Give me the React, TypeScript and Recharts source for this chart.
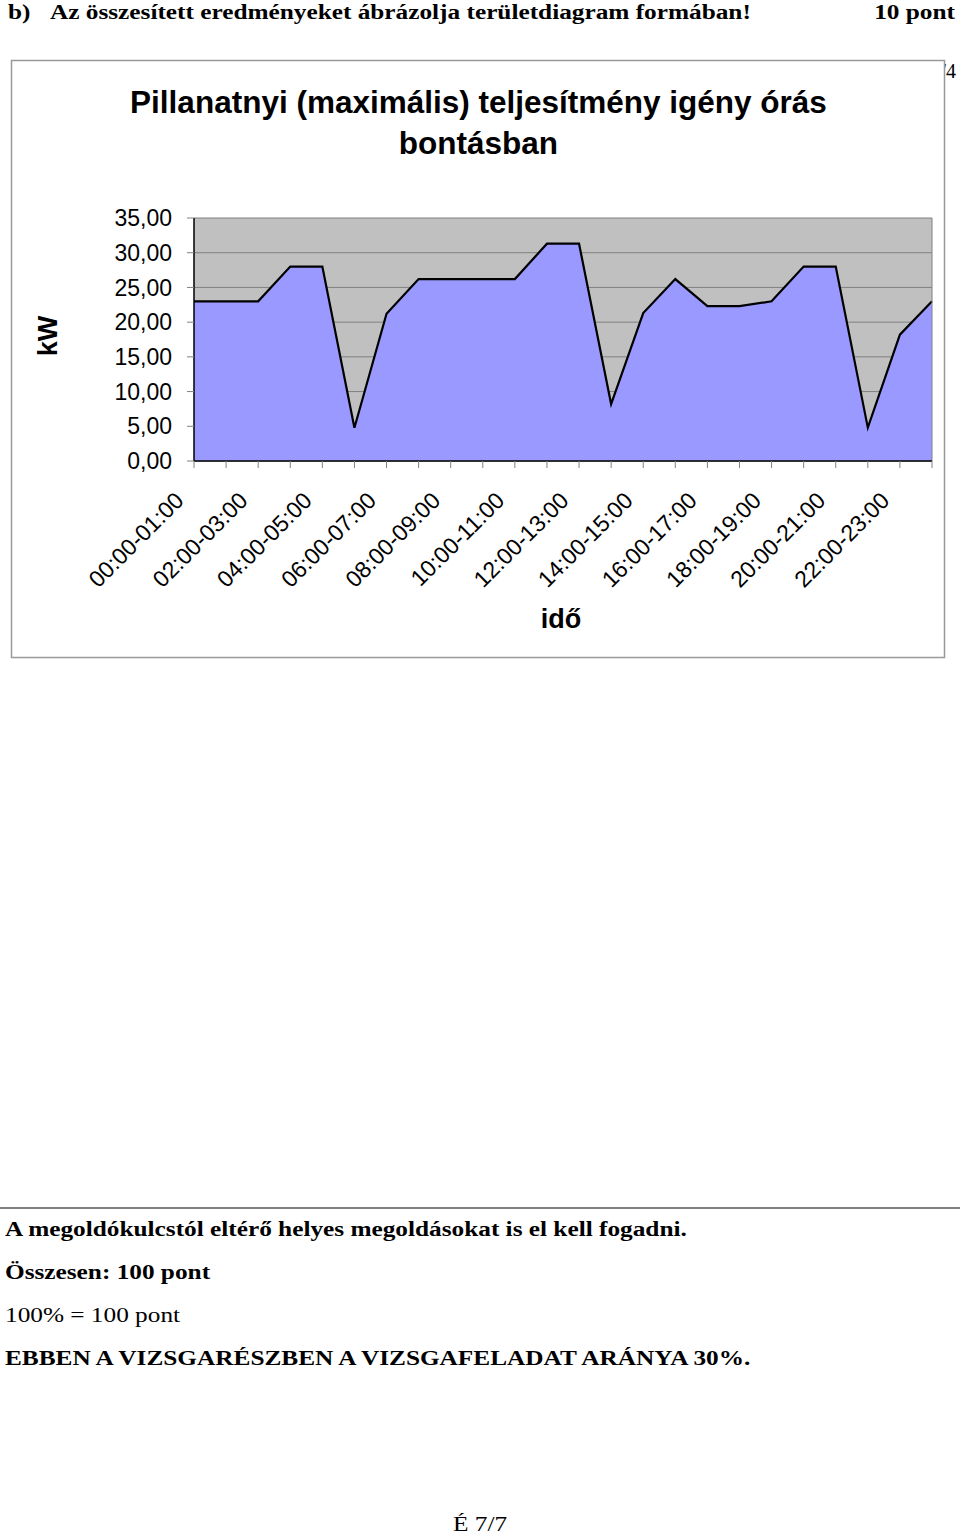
import React from 'react'
import { AreaChart, Area, XAxis, YAxis, CartesianGrid, ReferenceLine } from 'recharts'

// órás bontás: 00:00-01:00 ... 23:00-24:00
const hours = [
  '00:00-01:00', '01:00-02:00', '02:00-03:00', '03:00-04:00', '04:00-05:00', '05:00-06:00',
  '06:00-07:00', '07:00-08:00', '08:00-09:00', '09:00-10:00', '10:00-11:00', '11:00-12:00',
  '12:00-13:00', '13:00-14:00', '14:00-15:00', '15:00-16:00', '16:00-17:00', '17:00-18:00',
  '18:00-19:00', '19:00-20:00', '20:00-21:00', '21:00-22:00', '22:00-23:00', '23:00-24:00',
]

// kW értékek (leolvasva)
const power = [
  23, 23, 23, 28, 28, 4.8, 21.2, 26.2, 26.2, 26.2, 26.2, 31.3,
  31.3, 8.2, 21.3, 26.2, 22.3, 22.3, 23, 28, 28, 4.8, 18.2, 23,
]

const yTicks = [0, 5, 10, 15, 20, 25, 30, 35]

const data = hours.map((h, i) => ({ hour: h, kw: power[i] }))

const SANS = "'Liberation Sans', Arial, sans-serif"
const SERIF = "'Liberation Serif', 'Times New Roman', serif"

const fmt = (v: number) => v.toFixed(2).replace('.', ',')

// csak minden második címke látszik, de minden kategóriának van osztásjele
const HourTick = ({ x, y, payload }: any) => {
  const i = hours.indexOf(payload.value)
  if (i % 2 !== 0) return <g />
  return (
    <g transform={`translate(${x - 9},${y + 34})`}>
      <text textAnchor='end' transform='rotate(-45)' fontSize={23} fontFamily={SANS} fill='#000'>
        {payload.value}
      </text>
    </g>
  )
}

// a lap szövege kissé szélesebb, mint a Times
const PageText = ({ x, y, bold, anchor, children }: any) => (
  <g transform={`translate(${x},${y}) scale(1.15,1)`}>
    <text
      x={0}
      y={0}
      textAnchor={anchor || 'start'}
      fontFamily={SERIF}
      fontSize={22}
      fontWeight={bold ? 'bold' : 'normal'}
      fill='#000'
    >
      {children}
    </text>
  </g>
)

export default function App() {
  return (
    <div style={{ position: 'absolute', left: 0, top: 0, width: 960, height: 1537, background: '#fff' }}>
      <svg width={960} height={1537} style={{ position: 'absolute', left: 0, top: 0 }}>
        <PageText x={8} y={19} bold>b)</PageText>
        <PageText x={50} y={19} bold>Az összesített eredményeket ábrázolja területdiagram formában!</PageText>
        <PageText x={955} y={19} bold anchor='end'>10 pont</PageText>
        <text x={956} y={78} textAnchor='end' fontFamily={SERIF} fontSize={20} fill='#000'>/4</text>

        {/* diagram keret */}
        <rect x={11.5} y={60.5} width={933} height={597} fill='#fff' stroke='#999' strokeWidth={1.5} />

        <g fontFamily={SANS} fontSize={31.5} fontWeight='bold' fill='#000' textAnchor='middle'>
          <text x={478.5} y={113}>Pillanatnyi (maximális) teljesítmény igény órás</text>
          <text x={478.5} y={154}>bontásban</text>
        </g>
        <text
          transform='translate(57,336) rotate(-90)'
          textAnchor='middle'
          fontFamily={SANS}
          fontSize={27}
          fontWeight='bold'
          fill='#000'
        >
          kW
        </text>
        <text x={561} y={628} textAnchor='middle' fontFamily={SANS} fontSize={27} fontWeight='bold' fill='#000'>
          idő
        </text>

        <line x1={0} x2={960} y1={1208} y2={1208} stroke='#808080' strokeWidth={2} />
        <PageText x={5} y={1236} bold>A megoldókulcstól eltérő helyes megoldásokat is el kell fogadni.</PageText>
        <PageText x={5} y={1279} bold>Összesen: 100 pont</PageText>
        <PageText x={5} y={1322}>100% = 100 pont</PageText>
        <PageText x={5} y={1365} bold>EBBEN A VIZSGARÉSZBEN A VIZSGAFELADAT ARÁNYA 30%.</PageText>
        <PageText x={453} y={1531}>É 7/7</PageText>
      </svg>

      <div style={{ position: 'absolute', left: 0, top: 0 }}>
        <AreaChart width={960} height={660} data={data} margin={{ top: 218, right: 28, bottom: 99, left: 114 }}>
          <CartesianGrid vertical={false} stroke='#808080' fill='#C0C0C0' fillOpacity={1} />
          <XAxis
            dataKey='hour'
            interval={0}
            height={100}
            tickSize={7}
            tickMargin={0}
            tickLine={{ stroke: '#808080' }}
            axisLine={{ stroke: '#000', strokeWidth: 1.5 }}
            tick={<HourTick />}
          />
          <YAxis
            width={80}
            domain={[0, 35]}
            ticks={yTicks}
            tickFormatter={fmt}
            tickSize={7}
            tickMargin={15}
            tickLine={{ stroke: '#808080' }}
            axisLine={{ stroke: '#000', strokeWidth: 1.5 }}
            tick={{ fontSize: 23, fill: '#000', fontFamily: SANS }}
          />
          <ReferenceLine x={hours[hours.length - 1]} stroke='#808080' />
          <Area
            type='linear'
            dataKey='kw'
            stroke='#000'
            strokeWidth={2.2}
            fill='#9999FF'
            fillOpacity={1}
            dot={false}
            activeDot={false}
            isAnimationActive={false}
          />
        </AreaChart>
      </div>
    </div>
  )
}
